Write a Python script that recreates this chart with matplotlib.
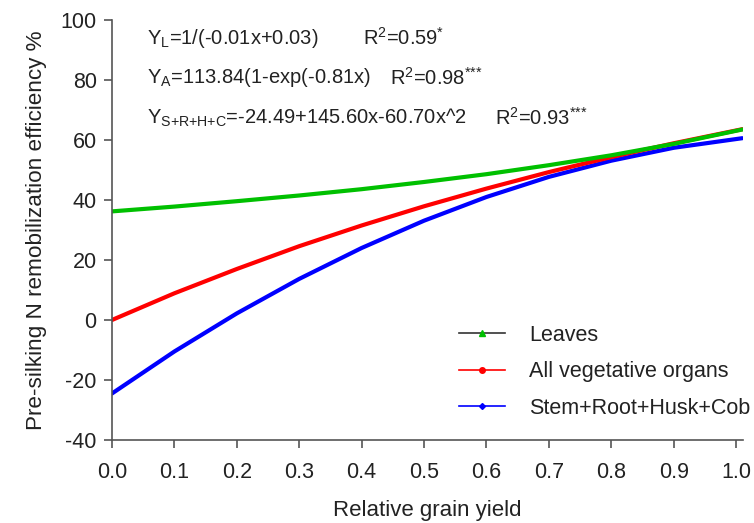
import matplotlib
matplotlib.use('Agg')
from matplotlib import pyplot as plt
from matplotlib.lines import Line2D

plt.rcParams['font.family'] = ['Liberation Sans', 'DejaVu Sans']
plt.rcParams['mathtext.fontset'] = 'custom'
plt.rcParams['mathtext.rm'] = 'Liberation Sans'
plt.rcParams['axes.unicode_minus'] = False

# relative grain yield
xvals = [0.0, 0.1, 0.2, 0.3, 0.4, 0.5, 0.6, 0.7, 0.8, 0.9, 1.01]

# fitted pre-silking N remobilization efficiency (%)
leaves = [36.2, 37.8, 39.6, 41.5, 43.6, 46.0, 48.6, 51.6, 54.9, 58.7, 63.5]
all_organs = [0.0, 8.9, 17.0, 24.6, 31.5, 37.9, 43.8, 49.3, 54.3, 58.9, 63.6]
stem_etc = [-24.5, -10.5, 2.2, 13.7, 24.0, 33.1, 41.0, 47.7, 53.1, 57.4, 60.6]

series_names = ['Leaves', 'All vegetative organs', 'Stem+Root+Husk+Cob']
equations = [r'Y$_\mathregular{L}$=1/(-0.01x+0.03)',
             r'Y$_\mathregular{A}$=113.84(1-exp(-0.81x)',
             r'Y$_\mathregular{S{+}R{+}H{+}C}$=-24.49+145.60x-60.70x^2']
rsquared = [r'R$^\mathregular{2}$=0.59$^\mathregular{{*}}$',
            r'R$^\mathregular{2}$=0.98$^\mathregular{{*}{*}{*}}$',
            r'R$^\mathregular{2}$=0.93$^\mathregular{{*}{*}{*}}$']

xticks = [0.0, 0.1, 0.2, 0.3, 0.4, 0.5, 0.6, 0.7, 0.8, 0.9, 1.0]
yticks = [-40, -20, 0, 20, 40, 60, 80, 100]

green = '#00c000'
red = '#ff0000'
blue = '#0000ff'
txtcol = '#222222'
axcol = '#555555'

fig = plt.figure(figsize=(7.54, 5.23), dpi=100)
ax = fig.add_axes([0.1485, 0.1587, 0.8369, 0.8031])

ax.plot(xvals, stem_etc, color=blue, lw=3, solid_capstyle='round')
ax.plot(xvals, all_organs, color=red, lw=3, solid_capstyle='round')
ax.plot(xvals, leaves, color=green, lw=3, solid_capstyle='round')

ax.set_xlim(0, 1.011)
ax.set_ylim(-40, 100)
ax.set_xticks(xticks)
ax.set_xticklabels(['%.1f' % v for v in xticks])
ax.set_yticks(yticks)

for side in ('top', 'right'):
    ax.spines[side].set_visible(False)
for side in ('left', 'bottom'):
    ax.spines[side].set_color(axcol)
    ax.spines[side].set_linewidth(1.2)
ax.tick_params(direction='out', length=6, width=1.2, color=axcol,
               labelsize=15.5, labelcolor=txtcol, pad=5)
ax.tick_params(axis='x', pad=10)

ax.set_xlabel('Relative grain yield', fontsize=16, color=txtcol, labelpad=12)
ax.set_ylabel('Pre-silking N remobilization efficiency %', fontsize=16.2,
              color=txtcol, labelpad=10)

# fitted equations
eq_y = [0.927, 0.851, 0.774]
r2_x = [0.481, 0.517, 0.656]
for i in range(3):
    fig.text(0.195, eq_y[i], equations[i], fontsize=14.5, color=txtcol, va='center')
    fig.text(r2_x[i], eq_y[i], rsquared[i], fontsize=14.5, color=txtcol, va='center')

handles = [Line2D([], [], color='#333333', lw=1.2, marker='^', ms=4,
                  markerfacecolor=green, markeredgecolor=green),
           Line2D([], [], color=red, lw=1.2, marker='o', ms=4),
           Line2D([], [], color=blue, lw=1.2, marker='D', ms=3)]
ax.legend(handles, series_names, loc='upper left', bbox_to_anchor=(0.52, 0.32),
          frameon=False, fontsize=15.5, handlelength=2.1, handletextpad=1.15,
          labelspacing=0.72, labelcolor=txtcol)

plt.savefig('out.png', dpi=100)
